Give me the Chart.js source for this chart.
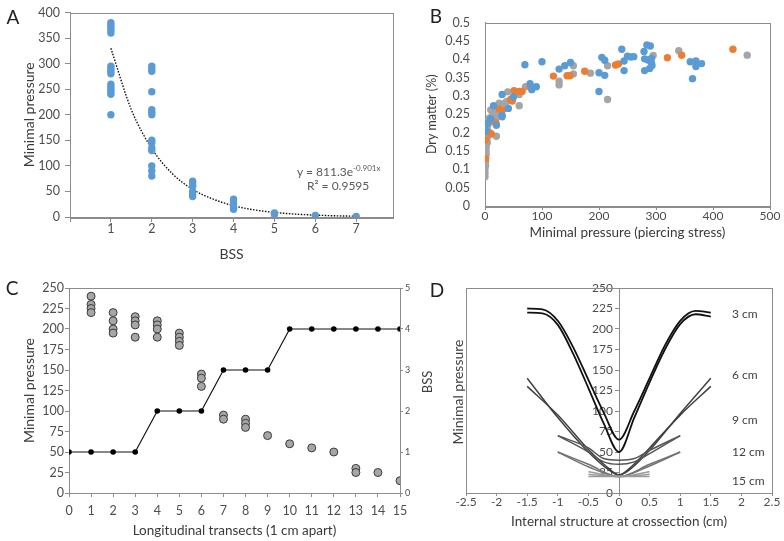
<!DOCTYPE html>
<html>
<head>
<meta charset="utf-8">
<script src="https://cdn.jsdelivr.net/npm/chart.js@4.4.1/dist/chart.umd.min.js"></script>
<style>
  body { margin: 0; width: 784px; height: 541px; background: #fff; position: relative; overflow: hidden; font-family: Lato, sans-serif; }
  canvas { position: absolute; }
  .t { position: absolute; white-space: nowrap; color: #404040; transform: translate(0, -50%); }
  .c { transform: translate(-50%, -50%); }
  .rot { transform: translate(-50%, -50%) rotate(-90deg); }
  sup { font-size: 8px; vertical-align: 5px; }
</style>
</head>
<body>
<canvas id="chartA" width="400" height="270" style="left:0;top:0"></canvas>
<canvas id="chartB" width="392" height="270" style="left:392px;top:0"></canvas>
<canvas id="chartC" width="440" height="271" style="left:0;top:270px"></canvas>
<canvas id="chartD" width="344" height="271" style="left:440px;top:270px"></canvas>

<div class="t c" style="left:13px;top:16px;font-size:19px;color:#222">A</div>
<div class="t c" style="left:436px;top:15px;font-size:19px;color:#222">B</div>
<div class="t c" style="left:12px;top:287px;font-size:19px;color:#222">C</div>
<div class="t c" style="left:437px;top:289px;font-size:19px;color:#222">D</div>

<div class="t" style="left:297px;top:171px;font-size:12px;color:#595959">y = 811.3e<sup>-0.901x</sup></div>
<div class="t" style="left:307px;top:185px;font-size:12px;color:#595959">R² = 0.9595</div>

<div class="t rot" style="left:427px;top:382px;font-size:13px">BSS</div>
<div class="t rot" style="left:457px;top:392px;font-size:14px">Minimal pressure</div>
<div class="t" style="left:732px;top:313px;font-size:12px">3 cm</div>
<div class="t" style="left:732px;top:374px;font-size:12px">6 cm</div>
<div class="t" style="left:732px;top:419px;font-size:12px">9 cm</div>
<div class="t" style="left:732px;top:451px;font-size:12px">12 cm</div>
<div class="t" style="left:732px;top:480px;font-size:12px">15 cm</div>

<script>
// ---- A: minimal pressure per BSS class ----
const aClasses = [1, 2, 3, 4, 5, 6, 7];
const aPressure = [
  [380, 375, 370, 365, 360, 295, 290, 285, 280, 260, 255, 250, 245, 240, 200],
  [295, 290, 285, 245, 210, 205, 200, 150, 145, 135, 130, 100, 90, 80],
  [70, 65, 60, 50, 45, 40],
  [35, 30, 25, 20, 15],
  [8, 5],
  [3],
  [1],
];
// exponential trend line
const aTrendX = [1, 1.5, 2, 2.5, 3, 3.5, 4, 4.5, 5, 5.5, 6, 6.5, 7];
const aTrendY = [330, 210, 134, 85, 54, 35, 22, 14, 9, 5.7, 3.7, 2.3, 1.5];

// ---- B: dry matter vs minimal pressure ----
const bBlueX = [70, 100, 130, 140, 150, 200, 200, 205, 210, 210, 240, 244, 244, 250, 256, 261, 279, 280, 280, 284, 290, 286, 292, 289, 293, 292,
  360, 364, 370, 370, 380, 79, 82, 90, 30, 50, 41, 30, 30, 15, 20, 10, 4, 1, 1];
const bBlueY = [0.385, 0.393, 0.373, 0.382, 0.391, 0.363, 0.312, 0.405, 0.397, 0.356, 0.427, 0.395, 0.369, 0.408, 0.406, 0.407, 0.421, 0.401, 0.369, 0.439, 0.436, 0.398, 0.402, 0.375, 0.383, 0.39,
  0.393, 0.347, 0.395, 0.38, 0.388, 0.333, 0.317, 0.325, 0.304, 0.297, 0.266, 0.247, 0.243, 0.273, 0.22, 0.238, 0.225, 0.203, 0.207];
const bOrangeX = [1, 1, 8, 11, 13, 19, 25, 31, 45, 48, 51, 60, 65, 79, 120, 144, 149, 175, 229, 234, 320, 345, 435];
const bOrangeY = [0.18, 0.129, 0.2, 0.196, 0.23, 0.227, 0.264, 0.262, 0.29, 0.286, 0.314, 0.312, 0.312, 0.325, 0.354, 0.355, 0.355, 0.367, 0.384, 0.387, 0.404, 0.411, 0.427];
const bGrayX = [0, 0, 0, 1, 1, 1, 2, 2, 2, 3, 3, 5, 6, 4, 5, 6, 8, 12, 15, 18, 22, 4, 10, 13, 19, 20, 25, 35, 38, 40, 60, 60, 71,
  130, 130, 155, 155, 185, 215, 215, 295, 340, 460];
const bGrayY = [0.08, 0.09, 0.1, 0.11, 0.12, 0.13, 0.14, 0.15, 0.16, 0.17, 0.18, 0.19, 0.2, 0.21, 0.22, 0.23, 0.24, 0.235, 0.25, 0.265, 0.255, 0.173, 0.262, 0.247, 0.238, 0.19, 0.28, 0.28, 0.285, 0.311, 0.304, 0.273, 0.325,
  0.34, 0.33, 0.382, 0.36, 0.362, 0.382, 0.29, 0.41, 0.423, 0.411];

// ---- C: pressure and BSS along longitudinal transects ----
const cTransects = [0, 1, 2, 3, 4, 5, 6, 7, 8, 9, 10, 11, 12, 13, 14, 15];
const cPressure = [
  [], [240, 230, 225, 220], [220, 210, 200, 195], [215, 210, 205, 190], [210, 205, 200, 190], [195, 190, 185, 180],
  [145, 140, 130], [95, 90], [90, 85, 80], [70], [60], [55], [50], [30, 25], [25], [15],
];
const cBss = [1, 1, 1, 1, 2, 2, 2, 3, 3, 3, 4, 4, 4, 4, 4, 4];

// ---- D: cross-section profiles ----
const d3X = [-1.5, -1.25, -1, -0.75, -0.5, -0.25, 0, 0.25, 0.5, 0.75, 1, 1.25, 1.5];
const d3A = [225, 224, 210, 178, 138, 98, 65, 100, 140, 180, 210, 222, 220];
const d3B = [220, 219, 205, 170, 128, 85, 50, 92, 135, 175, 206, 218, 215];
const d6X = [-1.5, -1, -0.5, -0.2, 0, 0.2, 0.5, 1, 1.5];
const d6A = [140, 92, 50, 30, 22, 30, 52, 97, 140];
const d6B = [130, 95, 53, 32, 22, 32, 55, 95, 130];
const d9X = [-1, -0.5, -0.25, 0, 0.25, 0.5, 1];
const d9A = [70, 55, 42, 40, 42, 52, 70];
const d9B = [70, 50, 38, 35, 38, 48, 70];
const d12X = [-1, -0.5, 0, 0.5, 1];
const d12A = [50, 35, 20, 35, 50];
const d12B = [50, 32, 20, 33, 50];
const d15X = [-0.5, 0, 0.5];
const d15A = [26, 20, 26];
const d15B = [23, 20, 23];
const d15C = [20, 20, 20];

const BLUE = '#5B9BD5', ORANGE = '#ED7D31', GRAY = '#A5A5A5';
const AXIS = '#8c8c8c', TICK = '#4d4d4d', TITLE = '#3a3a3a';
const FONT = 'Lato, sans-serif';

Chart.defaults.animation = false;
Chart.defaults.font.family = FONT;
Chart.defaults.plugins.legend.display = false;
Chart.defaults.plugins.tooltip.enabled = false;

const pts = (xs, ys) => xs.map((x, i) => ({ x: x, y: ys[i] }));
const fitW = w => s => { s.width = w; };
const fitH = h => s => { s.height = h; };
const fmt = v => String(Math.round(v * 100) / 100);

const boxPlugin = {
  id: 'box',
  beforeDatasetsDraw(chart) {
    const { ctx, chartArea: { left, top, right, bottom } } = chart;
    ctx.save();
    ctx.strokeStyle = AXIS;
    ctx.lineWidth = 1;
    ctx.strokeRect(Math.round(left) + 0.5, Math.round(top) + 0.5, Math.round(right - left), Math.round(bottom - top));
    ctx.restore();
  }
};

// A
const aPoints = [];
aClasses.forEach((c, i) => aPressure[i].forEach(p => aPoints.push({ x: c, y: p })));

new Chart(document.getElementById('chartA'), {
  type: 'scatter',
  data: {
    datasets: [
      { data: aPoints, backgroundColor: BLUE, borderWidth: 0, pointRadius: 3.7 },
      { data: pts(aTrendX, aTrendY), showLine: true, borderColor: '#111', borderWidth: 1.4, borderDash: [1.5, 1.5],
        pointRadius: 0, cubicInterpolationMode: 'monotone' },
    ]
  },
  options: {
    responsive: false,
    layout: { padding: { top: 10, right: 7, left: 0, bottom: 0 } },
    scales: {
      x: {
        min: 0, max: 7.9,
        afterBuildTicks: s => { s.ticks = [0].concat(aClasses).map(v => ({ value: v })); },
        afterFit: fitH(53),
        grid: { drawOnChartArea: false, tickLength: 5, color: AXIS },
        border: { color: AXIS },
        ticks: { color: TICK, font: { size: 12.5 }, padding: -1, callback: v => v === 0 ? '' : v },
        title: { display: true, text: 'BSS', color: TITLE, font: { size: 14 }, padding: { top: 0, bottom: 7 } }
      },
      y: {
        min: 0, max: 400,
        afterFit: fitW(70),
        grid: { drawOnChartArea: false, tickLength: 5, color: AXIS },
        border: { color: AXIS },
        ticks: { stepSize: 50, color: TICK, font: { size: 12.5 }, padding: 5 },
        title: { display: true, text: 'Minimal pressure', color: TITLE, font: { size: 14 }, padding: { top: 21, bottom: 0 } }
      }
    }
  },
  plugins: [boxPlugin]
});

// B
new Chart(document.getElementById('chartB'), {
  type: 'scatter',
  data: {
    datasets: [
      { data: pts(bBlueX, bBlueY), backgroundColor: BLUE, borderWidth: 0, pointRadius: 3.7 },
      { data: pts(bOrangeX, bOrangeY), backgroundColor: ORANGE, borderWidth: 0, pointRadius: 3.7 },
      { data: pts(bGrayX, bGrayY), backgroundColor: GRAY, borderWidth: 0, pointRadius: 3.7 },
    ]
  },
  options: {
    responsive: false,
    layout: { padding: { top: 15, right: 14, left: 0, bottom: 0 } },
    scales: {
      x: {
        min: 0, max: 500,
        afterFit: fitH(64),
        grid: { drawOnChartArea: false, tickLength: 4, color: AXIS },
        border: { color: AXIS },
        ticks: { stepSize: 100, color: TICK, font: { size: 12 }, padding: -1 },
        title: { display: true, text: 'Minimal pressure (piercing stress)', color: TITLE, font: { size: 13.5 }, padding: { top: 0, bottom: 29 } }
      },
      y: {
        min: 0, max: 0.5,
        afterFit: fitW(93),
        grid: { display: false, drawTicks: false },
        border: { color: AXIS },
        ticks: { stepSize: 0.05, color: TICK, font: { size: 12.5 }, padding: 15, callback: fmt },
        title: { display: true, text: 'Dry matter (%)', color: TITLE, font: { size: 12.5 }, padding: { top: 32, bottom: 0 } }
      }
    }
  },
  plugins: [boxPlugin]
});

// C
const cPoints = [];
cTransects.forEach((t, i) => cPressure[i].forEach(p => cPoints.push({ x: t, y: p })));

new Chart(document.getElementById('chartC'), {
  type: 'scatter',
  data: {
    datasets: [
      { data: cPoints, backgroundColor: '#A6A6A6', borderColor: '#3a3a3a', borderWidth: 1, pointRadius: 4, yAxisID: 'y' },
      { data: pts(cTransects, cBss), showLine: true, borderColor: '#111', borderWidth: 1.2, backgroundColor: '#000',
        pointRadius: 2.8, pointBorderWidth: 0, yAxisID: 'y2' },
    ]
  },
  options: {
    responsive: false,
    layout: { padding: { top: 18, right: 0, left: 0, bottom: 0 } },
    scales: {
      x: {
        min: 0, max: 15,
        afterFit: fitH(48),
        grid: { drawOnChartArea: false, tickLength: 4, color: AXIS },
        border: { color: AXIS },
        ticks: { stepSize: 1, color: TICK, font: { size: 12.5 }, padding: 6 },
        title: { display: true, text: 'Longitudinal transects (1 cm apart)', color: TITLE, font: { size: 13.5 }, padding: { top: 0, bottom: 2 } }
      },
      y: {
        min: 0, max: 250, position: 'left',
        afterFit: fitW(69),
        grid: { drawOnChartArea: false, tickLength: 4, color: AXIS },
        border: { color: AXIS },
        ticks: { stepSize: 25, color: TICK, font: { size: 12.5 }, padding: 1 },
        title: { display: true, text: 'Minimal pressure', color: TITLE, font: { size: 14 }, padding: { top: 21, bottom: 0 } }
      },
      y2: {
        min: 0, max: 5, position: 'right',
        afterFit: fitW(40),
        grid: { drawOnChartArea: false, tickLength: 3, color: AXIS },
        border: { color: AXIS },
        ticks: { stepSize: 1, color: TICK, font: { size: 9 }, padding: 2 }
      }
    }
  },
  plugins: [boxPlugin]
});

// D
const dLine = (xs, ys, color, width) => ({
  data: pts(xs, ys), showLine: true, borderColor: color, borderWidth: width, pointRadius: 0,
  cubicInterpolationMode: 'monotone'
});

new Chart(document.getElementById('chartD'), {
  type: 'scatter',
  data: {
    datasets: [
      dLine(d15X, d15A, '#9a9a9a', 1.5), dLine(d15X, d15B, '#9a9a9a', 1.5), dLine(d15X, d15C, '#9a9a9a', 1.5),
      dLine(d12X, d12A, '#737373', 1.5), dLine(d12X, d12B, '#737373', 1.5),
      dLine(d9X, d9A, '#555', 1.5), dLine(d9X, d9B, '#555', 1.5),
      dLine(d6X, d6A, '#404040', 1.5), dLine(d6X, d6B, '#404040', 1.5),
      dLine(d3X, d3A, '#111', 1.8), dLine(d3X, d3B, '#111', 1.8),
    ]
  },
  options: {
    responsive: false,
    layout: { padding: { top: 18, right: 12, left: 26, bottom: 0 } },
    scales: {
      x: {
        min: -2.5, max: 2.5,
        afterFit: fitH(48),
        grid: { drawOnChartArea: false, tickLength: 3, color: AXIS },
        border: { color: AXIS },
        ticks: { stepSize: 0.5, color: TICK, font: { size: 12 }, padding: -1, callback: fmt },
        title: { display: true, text: 'Internal structure at crossection (cm)', color: TITLE, font: { size: 13.5 }, padding: { top: 0, bottom: 11 } }
      },
      y: {
        min: 0, max: 250, position: { x: 0 },
        grid: { drawOnChartArea: false, tickLength: 4, color: AXIS },
        border: { color: AXIS },
        // labels of a centred axis sit flush on it; trailing spaces keep them clear of the tick marks
        ticks: { stepSize: 25, color: TICK, font: { size: 12 }, padding: 5, callback: v => v + '\u2002' }
      }
    }
  },
  plugins: [boxPlugin]
});
</script>
</body>
</html>
